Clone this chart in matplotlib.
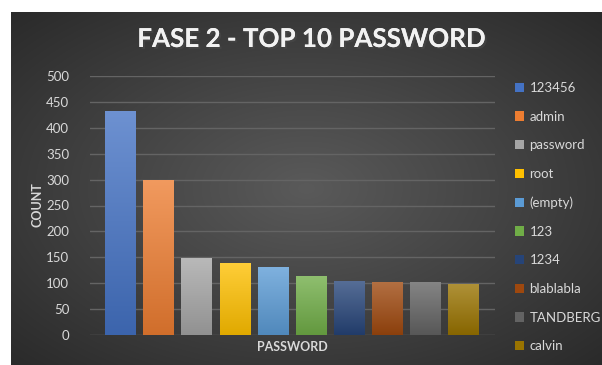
import matplotlib
matplotlib.use("Agg")
import matplotlib.pyplot as plt
import matplotlib.patheffects as pe
from matplotlib.patches import Patch
from matplotlib.colors import to_rgb
import numpy as np

plt.rcParams["font.family"] = ["Lato", "DejaVu Sans"]

passwords = ["123456", "admin", "password", "root", "(empty)", "123",
             "1234", "blablabla", "TANDBERG", "calvin"]
counts = [432, 299, 148, 139, 131, 114, 104, 103, 103, 99]
colors = ["#4472C4", "#ED7D31", "#A5A5A5", "#FFC000", "#5B9BD5", "#70AD47",
          "#264478", "#9E480E", "#636363", "#997300"]
yticks = [0, 50, 100, 150, 200, 250, 300, 350, 400, 450, 500]

W, H = 602, 365
fig = plt.figure(figsize=(W / 100, H / 100), dpi=100, facecolor="white")

# dark panel with radial gradient
bg = fig.add_axes([11 / W, 0, 1 - 11 / W, 1 - 12 / H])
bg.set_axis_off()
yy, xx = np.mgrid[0:1:200j, 0:1:300j]
r = np.sqrt(((xx - 0.5) / 0.75) ** 2 + ((yy - 0.5) / 0.75) ** 2)
r = np.clip(r / 0.95, 0, 1)
c0, c1 = np.array(to_rgb("#5a5a5a")), np.array(to_rgb("#2a2a2a"))
img = c0[None, None, :] * (1 - r[..., None]) + c1[None, None, :] * r[..., None]
bg.imshow(img, aspect="auto", extent=[0, 1, 0, 1], interpolation="bilinear")
bg.set_xlim(0, 1)
bg.set_ylim(0, 1)

ax = fig.add_axes([90 / W, 1 - 335 / H, 405 / W, (335 - 76) / H])
ax.patch.set_alpha(0)
x = np.arange(len(passwords))
bars = ax.bar(x, counts, width=0.8, color=colors, zorder=3)

# vertical gradient fill on each bar
grad = np.linspace(1, 0, 100)[:, None]
for b, col in zip(bars, colors):
    base = np.array(to_rgb(col))
    light = base + (1 - base) * 0.22
    dark = base * 0.88
    g = light[None, None, :] * grad[..., None] + dark[None, None, :] * (1 - grad[..., None])
    g = np.repeat(g, 2, axis=1)
    im = ax.imshow(g, aspect="auto", zorder=4, interpolation="bilinear",
                   extent=[b.get_x(), b.get_x() + b.get_width(), 0, b.get_height()])
    im.set_clip_path(b)

ax.set_xlim(-0.8, 9.83)
ax.set_ylim(0, 500)
ax.set_yticks(yticks)
ax.set_xticks([])
ax.yaxis.grid(True, color="#646464", lw=1, zorder=0)
for s in ax.spines.values():
    s.set_visible(False)
ax.tick_params(axis="y", length=0, pad=15, labelsize=9.5, labelcolor="#d9d9d9")

fig.text(312 / W, 1 - 39 / H, "FASE 2 - TOP 10 PASSWORD", ha="center", va="center",
         fontsize=18.7, fontweight="bold", color="#f2f2f2",
         path_effects=[pe.withSimplePatchShadow(offset=(1.5, -1.5), alpha=0.6), pe.Normal()])
fig.text(38 / W, 1 - 205 / H, "COUNT", rotation=90, ha="center", va="center",
         fontsize=9, fontweight="bold", color="#d9d9d9")
fig.text(292 / W, 1 - 347 / H, "PASSWORD", ha="center", va="center",
         fontsize=9, fontweight="bold", color="#d9d9d9")

handles = [Patch(facecolor=c, edgecolor="none") for c in colors]
leg = fig.legend(handles, passwords, loc="upper left",
                 bbox_to_anchor=(515 / W, 1 - 82 / H), frameon=False,
                 handlelength=0.7, handleheight=0.7, handletextpad=0.4,
                 labelspacing=1.26, fontsize=9.5, labelcolor="#d9d9d9",
                 borderaxespad=0, borderpad=0)

fig.savefig("out.png", dpi=100, facecolor="white")
